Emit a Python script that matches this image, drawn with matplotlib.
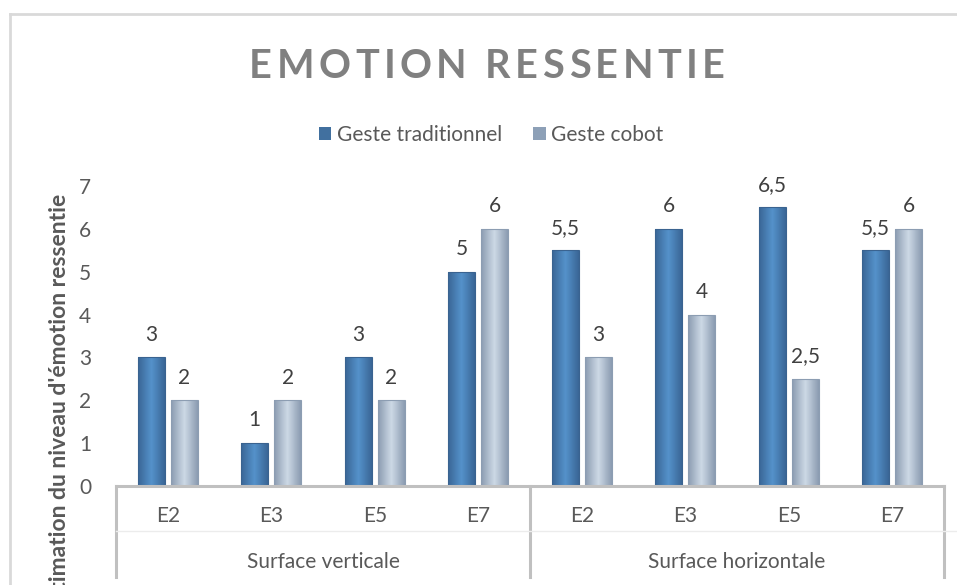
import numpy as np
import matplotlib.pyplot as plt
from matplotlib.colors import LinearSegmentedColormap
from matplotlib.patches import Rectangle

plt.rcParams['font.family'] = ['Lato', 'DejaVu Sans']

# data
etapes = ['E2', 'E3', 'E5', 'E7', 'E2', 'E3', 'E5', 'E7']
surfaces = ['Surface verticale', 'Surface horizontale']
traditionnel = [3, 1, 3, 5, 5.5, 6, 6.5, 5.5]
cobot = [2, 2, 2, 6, 3, 4, 2.5, 6]
series = ['Geste traditionnel', 'Geste cobot']

W, H = 957, 585
fig = plt.figure(figsize=(W / 100, H / 100), dpi=100)
fig.patch.set_facecolor('white')

# chart border (cropped on the right and bottom)
fig.add_artist(plt.Line2D([10 / W, 10 / W], [0, 1 - 14 / H], color='#d9d9d9', lw=2))
fig.add_artist(plt.Line2D([10 / W, 1], [1 - 14 / H, 1 - 14 / H], color='#d9d9d9', lw=2))

ax = fig.add_axes([116 / W, (H - 486) / H, (944 - 116) / W, 300 / H])
ax.set_xlim(-0.5, 7.5)
ax.set_ylim(0, 7)
for s in ['top', 'right', 'left']:
    ax.spines[s].set_visible(False)
ax.spines['bottom'].set_color('#c0c0c0')
ax.spines['bottom'].set_linewidth(2.2)
ax.set_yticks(range(8))
ax.tick_params(axis='y', length=0, pad=18, labelsize=15, labelcolor='#595959')
ax.set_xticks([])

cm_trad = LinearSegmentedColormap.from_list('trad', ['#3a6696', '#5592cb', '#3a6696'])
cm_cob = LinearSegmentedColormap.from_list('cob', ['#8b9cb1', '#cdd9e6', '#8b9cb1'])
grad = np.linspace(0, 1, 64).reshape(1, -1)

bw = 0.26
gap = 0.06
x = np.arange(len(etapes))


def shade(bars, cmap, edge):
    for b in bars:
        b.set_facecolor('none')
        b.set_edgecolor(edge)
        b.set_linewidth(0.8)
        x0, w, h = b.get_x(), b.get_width(), b.get_height()
        im = ax.imshow(grad, cmap=cmap, extent=(x0, x0 + w, 0, h),
                       aspect='auto', zorder=1)
        im.set_clip_path(b)


b1 = ax.bar(x - (bw + gap) / 2, traditionnel, bw, zorder=2)
b2 = ax.bar(x + (bw + gap) / 2, cobot, bw, zorder=2)
shade(b1, cm_trad, '#3a6390')
shade(b2, cm_cob, '#8c9db2')
ax.set_xlim(-0.5, 7.5)
ax.set_ylim(0, 7)

fmt = lambda v: f'{v:g}'.replace('.', ',')
for bars, vals in [(b1, traditionnel), (b2, cobot)]:
    for b, v in zip(bars, vals):
        ax.annotate(fmt(v), (b.get_x() + b.get_width() / 2, v), xytext=(0, 12),
                    textcoords='offset points', ha='center', va='baseline',
                    fontsize=15, color='#404040', annotation_clip=False)

# two level category axis
tr = ax.get_xaxis_transform()
for xs in [-0.5, 3.5, 7.5]:
    ax.plot([xs, xs], [0, -91 / 300], color='#c0c0c0', lw=2.2, transform=tr, clip_on=False)
ax.plot([-0.5, 8.5], [-45 / 300, -45 / 300], color='#ececec', lw=1, transform=tr, clip_on=False)
for xi, lab in zip(x, etapes):
    ax.text(xi, -30 / 300, lab, transform=tr, ha='center', va='center',
            fontsize=15, color='#595959')
for i, lab in enumerate(surfaces):
    ax.text(1.5 + 4 * i, -76 / 300, lab, transform=tr, ha='center', va='center',
            fontsize=15, color='#595959')

# y axis title, partly cut by the bottom edge
fig.text(60 / W, 1 - 194 / H, "Estimation du niveau d'émotion ressentie", rotation=90,
         ha='center', va='top', fontsize=16.5, fontweight='bold', color='#595959')

# legend
leg = fig.legend([Rectangle((0, 0), 1, 1, fc='#41709f'), Rectangle((0, 0), 1, 1, fc='#8da0b7')],
                 series, loc='center', bbox_to_anchor=(491 / W, 1 - 135 / H), ncol=2,
                 frameon=False, fontsize=15, handlelength=0.6, handleheight=0.6,
                 handletextpad=0.25, columnspacing=1.5)
for t in leg.get_texts():
    t.set_color('#595959')

# title with expanded letter spacing
title = 'EMOTION RESSENTIE'
spacing = 4.5
r = fig.canvas.get_renderer()
chars = [fig.text(0, 1 - 66 / H, c, fontsize=28.5, fontweight='bold', color='#808080',
                  va='center', ha='left') for c in title]
widths = []
for t in chars:
    if t.get_text() == ' ':
        widths.append(9)
    else:
        widths.append(t.get_window_extent(r).width)
total = sum(widths) + spacing * (len(chars) - 1)
pos = 487 - total / 2
for t, w in zip(chars, widths):
    t.set_x(pos / W)
    pos += w + spacing

fig.savefig('out.png', dpi=100)
